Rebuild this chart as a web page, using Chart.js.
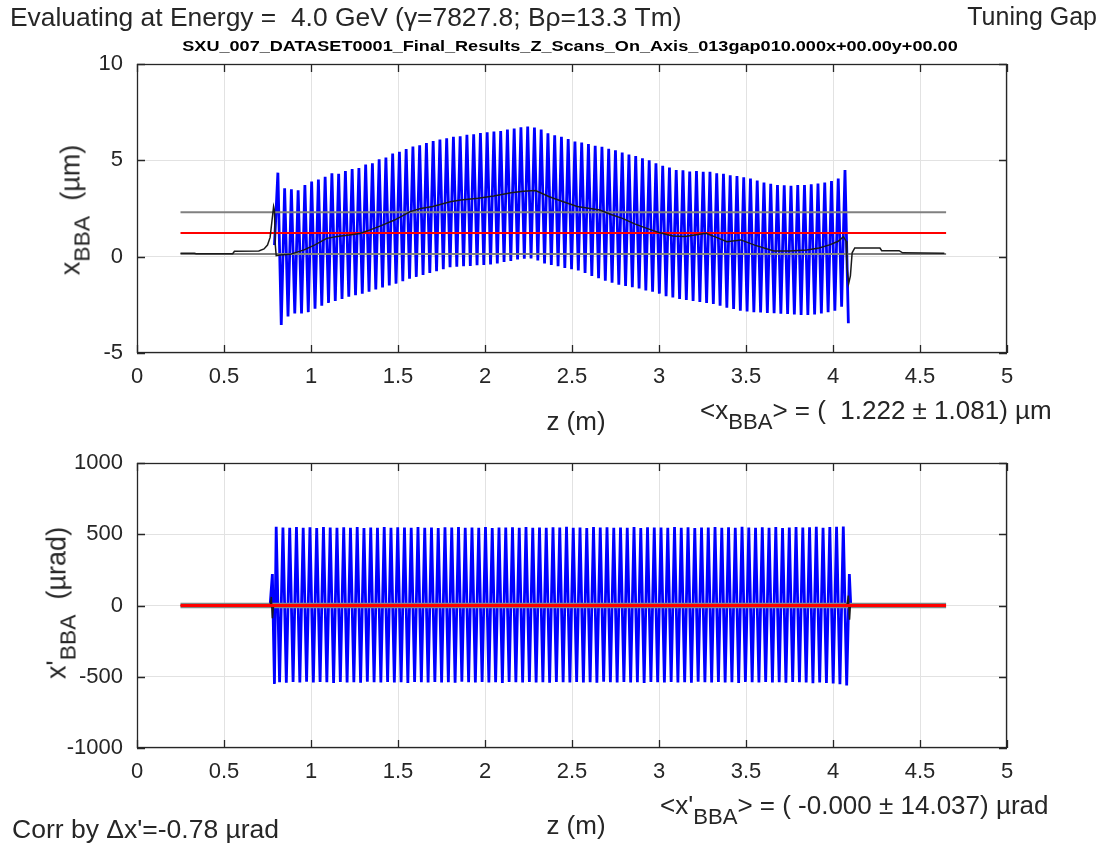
<!DOCTYPE html>
<html>
<head>
<meta charset="utf-8">
<script src="https://cdn.jsdelivr.net/npm/chart.js@4.4.1/dist/chart.umd.min.js"></script>
<style>
  html, body { margin: 0; padding: 0; background: #fff; }
  #wrap { position: relative; width: 1107px; height: 844px; overflow: hidden; font-family: "Liberation Sans", Arial, sans-serif; color: #262626; }
  canvas { position: absolute; left: 0; }
  .t { position: absolute; white-space: pre; line-height: 1; }
  .t sub { font-size: 0.85em; vertical-align: -0.45em; line-height: 0; }
  .rot { transform: translate(-50%, -50%) rotate(-90deg); }
  .ctr { transform: translate(-50%, -50%); }
</style>
</head>
<body>
<div id="wrap">
  <canvas id="chart-x" width="1107" height="400" style="top:0"></canvas>
  <canvas id="chart-xp" width="1107" height="444" style="top:400px"></canvas>

  <div class="t" style="left:10px;top:4px;font-size:26.4px">Evaluating at Energy =  4.0 GeV (γ=7827.8; Bρ=13.3 Tm)</div>
  <div class="t" style="right:10px;top:4px;font-size:25px">Tuning Gap</div>
  <div class="t ctr" id="subtitle" style="left:570px;top:46px;font-size:14px;font-weight:bold;color:#000">SXU_007_DATASET0001_Final_Results_Z_Scans_On_Axis_013gap010.000x+00.00y+00.00</div>

  <div class="t rot" style="left:71px;top:210px;font-size:27px">x<sub>BBA</sub>  (µm)</div>
  <div class="t ctr" style="left:576px;top:421px;font-size:26px">z (m)</div>
  <div class="t" style="left:700px;top:397px;font-size:26px">&lt;x<sub>BBA</sub>&gt; = (  1.222 ± 1.081) µm</div>

  <div class="t rot" style="left:57px;top:603px;font-size:27px">x'<sub>BBA</sub>  (µrad)</div>
  <div class="t ctr" style="left:576px;top:825px;font-size:26px">z (m)</div>
  <div class="t" style="left:660px;top:792px;font-size:26px">&lt;x'<sub>BBA</sub>&gt; = ( -0.000 ± 14.037) µrad</div>
  <div class="t" style="left:12px;top:816px;font-size:26.5px">Corr by Δx'=-0.78 µrad</div>
</div>

<script>
// undulator oscillation: one peak and one trough per period
const Z_START = 0.80, PERIOD = 0.0388;

// x_BBA (µm) extremes, one per undulator period
const xPeaks = [
  4.36, 3.55, 3.50, 3.45, 3.72, 3.90, 4.00, 4.15, 4.33, 4.30,
  4.45, 4.55, 4.60, 4.78, 4.85, 5.05, 5.15, 5.35, 5.45, 5.58,
  5.72, 5.78, 5.90, 6.00, 6.08, 6.15, 6.22, 6.25, 6.32, 6.35,
  6.42, 6.45, 6.50, 6.52, 6.60, 6.65, 6.72, 6.75, 6.70, 6.60,
  6.40, 6.30, 6.22, 6.10, 5.98, 5.92, 5.85, 5.76, 5.70, 5.60,
  5.52, 5.40, 5.30, 5.22, 5.10, 5.00, 4.85, 4.72, 4.62, 4.50,
  4.48, 4.42, 4.45, 4.40, 4.40, 4.33, 4.30, 4.22, 4.18, 4.12,
  4.05, 3.95, 3.85, 3.78, 3.72, 3.70, 3.68, 3.72, 3.72, 3.76,
  3.80, 3.85, 3.92, 4.05, 4.50];
const xTroughs = [
  -3.55, -3.10, -2.95, -2.95, -2.88, -2.70, -2.55, -2.40, -2.30, -2.20,
  -2.08, -2.00, -1.92, -1.82, -1.70, -1.60, -1.50, -1.40, -1.28, -1.15,
  -1.05, -0.95, -0.85, -0.75, -0.65, -0.55, -0.52, -0.50, -0.48, -0.45,
  -0.43, -0.40, -0.35, -0.28, -0.22, -0.15, -0.10, -0.09, -0.20, -0.35,
  -0.43, -0.50, -0.58, -0.65, -0.72, -0.85, -1.00, -1.12, -1.25, -1.35,
  -1.45, -1.52, -1.58, -1.65, -1.75, -1.82, -1.92, -2.05, -2.12, -2.20,
  -2.25, -2.30, -2.35, -2.40, -2.45, -2.55, -2.65, -2.72, -2.80, -2.85,
  -2.88, -2.90, -2.92, -2.94, -2.96, -2.98, -3.00, -3.02, -3.03, -3.00,
  -2.95, -2.88, -2.80, -2.60, -3.46];

// period-averaged x (black curve)
const avgZ = [0.25, 0.33, 0.34, 0.55, 0.56, 0.70, 0.73, 0.75, 0.765, 0.775, 0.785, 0.79, 0.795, 0.80,
  0.82, 0.88, 0.96, 1.02, 1.09, 1.15, 1.22, 1.28, 1.34, 1.40, 1.48, 1.57, 1.63, 1.70, 1.80, 1.86,
  1.96, 2.05, 2.15, 2.22, 2.29, 2.37, 2.45, 2.53, 2.66, 2.72, 2.79, 2.86, 2.93, 3.00, 3.08, 3.15,
  3.27, 3.33, 3.39, 3.47, 3.55, 3.66, 3.75, 3.85, 3.92, 3.98, 4.03, 4.06, 4.075, 4.08, 4.09, 4.10,
  4.11, 4.125, 4.27, 4.28, 4.38, 4.40, 4.64];
const avgX = [0.18, 0.18, 0.15, 0.15, 0.28, 0.30, 0.40, 0.60, 1.00, 1.80, 2.60, 2.40, 0.60, 0.05,
  0.09, 0.12, 0.35, 0.60, 0.95, 1.05, 1.13, 1.20, 1.39, 1.60, 1.90, 2.34, 2.50, 2.60, 2.85, 2.94,
  3.03, 3.15, 3.32, 3.40, 3.43, 3.11, 2.85, 2.60, 2.42, 2.20, 1.99, 1.70, 1.47, 1.25, 1.07, 1.05,
  1.21, 1.00, 0.78, 0.87, 0.60, 0.30, 0.30, 0.35, 0.45, 0.61, 0.80, 1.04, 0.80, -0.50, -1.40, -1.00,
  0.20, 0.45, 0.45, 0.31, 0.31, 0.20, 0.18];

const X_MEAN = 1.222, X_STD = 1.081;

// x'_BBA (µrad) extremes, one per undulator period
const xpPeaks = [
  552, 548, 545, 550, 546, 549, 544, 550, 547, 545,
  549, 546, 550, 544, 548, 546, 551, 545, 549, 547,
  545, 550, 546, 548, 544, 549, 547, 551, 545, 548,
  546, 550, 544, 548, 547, 549, 545, 550, 546, 548,
  545, 549, 547, 552, 546, 548, 544, 550, 547, 549,
  545, 548, 546, 550, 544, 549, 547, 548, 545, 550,
  546, 549, 544, 548, 547, 550, 545, 549, 546, 552,
  547, 545, 549, 546, 550, 544, 548, 551, 547, 549,
  552, 546, 550, 553, 555];
const xpTroughs = [
  -538, -542, -536, -540, -535, -541, -537, -539, -543, -536,
  -540, -538, -542, -535, -539, -541, -536, -540, -538, -543,
  -537, -539, -541, -536, -540, -538, -542, -535, -539, -541,
  -537, -540, -538, -543, -536, -539, -541, -537, -540, -538,
  -542, -536, -539, -541, -537, -540, -538, -542, -535, -539,
  -541, -536, -540, -538, -543, -537, -539, -541, -536, -540,
  -538, -542, -535, -539, -541, -537, -540, -538, -543, -536,
  -539, -541, -537, -540, -538, -542, -536, -539, -541, -545,
  -540, -543, -548, -552, -562];
const xpEntryZ = [0.765, 0.778, 0.790], xpEntry = [0, 220, -550];
const xpExitZ = [4.094, 4.102], xpExit = [220, 0];

const xpAvgZ = [0.25, 0.765, 0.772, 0.778, 0.785, 4.08, 4.088, 4.095, 4.10, 4.64];
const xpAvg  = [0, 0, 60, -90, 0, 0, 70, -100, 0, 0];

const XP_MEAN = -0.000, XP_STD = 14.037;
const LINE_Z = [0.25, 4.65];

const zTicks = [0, 0.5, 1, 1.5, 2, 2.5, 3, 3.5, 4, 4.5, 5];

// ---- build point lists ----
const xTrace = [{ x: 0.79, y: 0.6 }];
xPeaks.forEach((v, i) => {
  xTrace.push({ x: Z_START + (i + 0.25) * PERIOD, y: v });
  xTrace.push({ x: Z_START + (i + 0.75) * PERIOD, y: xTroughs[i] });
});
const xpTrace = xpEntryZ.map((z, i) => ({ x: z, y: xpEntry[i] }));
xpPeaks.forEach((v, i) => {
  xpTrace.push({ x: Z_START + i * PERIOD, y: v });
  xpTrace.push({ x: Z_START + (i + 0.5) * PERIOD, y: xpTroughs[i] });
});
xpExitZ.forEach((z, i) => xpTrace.push({ x: z, y: xpExit[i] }));

const pts = (zs, vs) => zs.map((z, i) => ({ x: z, y: vs[i] }));
const hline = (v) => LINE_Z.map((z) => ({ x: z, y: v }));

// MATLAB-like box with inward ticks
const boxPlugin = {
  id: "box",
  afterDraw(chart) {
    const { ctx, chartArea: a, scales } = chart;
    ctx.save();
    ctx.strokeStyle = "#262626";
    ctx.lineWidth = 1.3;
    ctx.strokeRect(a.left + 0.5, a.top + 0.5, a.right - a.left - 1, a.bottom - a.top - 1);
    ctx.beginPath();
    const L = 8;
    scales.x.ticks.forEach((t) => {
      const px = Math.round(scales.x.getPixelForValue(t.value)) + 0.5;
      ctx.moveTo(px, a.bottom); ctx.lineTo(px, a.bottom - L);
      ctx.moveTo(px, a.top); ctx.lineTo(px, a.top + L);
    });
    scales.y.ticks.forEach((t) => {
      const py = Math.round(scales.y.getPixelForValue(t.value)) + 0.5;
      ctx.moveTo(a.left, py); ctx.lineTo(a.left + L, py);
      ctx.moveTo(a.right, py); ctx.lineTo(a.right - L, py);
    });
    ctx.stroke();
    ctx.restore();
  },
};

const tickFont = { family: "Liberation Sans", size: 22 };

function makeChart(id, cfg) {
  return new Chart(document.getElementById(id), {
    type: "scatter",
    data: { datasets: cfg.datasets },
    options: {
      responsive: false,
      animation: false,
      devicePixelRatio: 1,
      layout: { padding: { top: cfg.padTop, right: 100, left: 0, bottom: 0 } },
      plugins: { legend: { display: false }, tooltip: { enabled: false } },
      elements: { point: { radius: 0 }, line: { tension: 0 } },
      scales: {
        x: {
          type: "linear", min: 0, max: 5,
          afterBuildTicks: (s) => { s.ticks = zTicks.map((v) => ({ value: v })); },
          afterFit: (s) => { s.height = cfg.xAxisH; },
          ticks: { font: tickFont, color: "#262626", padding: 11, callback: (v) => String(v) },
          grid: { color: "#e2e2e2", drawTicks: false },
          border: { display: false },
        },
        y: {
          type: "linear", min: cfg.yMin, max: cfg.yMax,
          ticks: { stepSize: cfg.yStep, font: tickFont, color: "#262626", padding: 14, callback: (v) => String(v) },
          afterFit: (s) => { s.width = 137; },
          grid: { color: "#e2e2e2", drawTicks: false },
          border: { display: false },
        },
      },
    },
    plugins: [boxPlugin],
  });
}

makeChart("chart-x", {
  padTop: 64, xAxisH: 47, yMin: -5, yMax: 10, yStep: 5,
  datasets: [
    { data: pts(avgZ, avgX), showLine: true, borderColor: "#1a1a1a", borderWidth: 1.5, order: 0 },
    { data: hline(X_MEAN), showLine: true, borderColor: "#ff0000", borderWidth: 2, order: 1 },
    { data: hline(X_MEAN + X_STD), showLine: true, borderColor: "#808080", borderWidth: 2, order: 2 },
    { data: hline(X_MEAN - X_STD), showLine: true, borderColor: "#808080", borderWidth: 2, order: 2 },
    { data: xTrace, showLine: true, borderColor: "#0000ff", borderWidth: 2.8, order: 3 },
  ],
});

makeChart("chart-xp", {
  padTop: 63, xAxisH: 96, yMin: -1000, yMax: 1000, yStep: 500,
  datasets: [
    { data: hline(XP_MEAN), showLine: true, borderColor: "#ff0000", borderWidth: 3, order: 0 },
    { data: pts(xpAvgZ, xpAvg), showLine: true, borderColor: "#1a1a1a", borderWidth: 1.5, order: 1 },
    { data: hline(XP_MEAN + XP_STD), showLine: true, borderColor: "#808888", borderWidth: 1.5, order: 2 },
    { data: hline(XP_MEAN - XP_STD), showLine: true, borderColor: "#808888", borderWidth: 1.5, order: 2 },
    { data: xpTrace, showLine: true, borderColor: "#0000ff", borderWidth: 2.8, order: 3 },
  ],
});

// squeeze the bold file-name line to its width in the figure
const sub = document.getElementById("subtitle");
sub.style.transform = `translate(-50%, -50%) scaleX(${775 / sub.offsetWidth})`;
</script>
</body>
</html>
